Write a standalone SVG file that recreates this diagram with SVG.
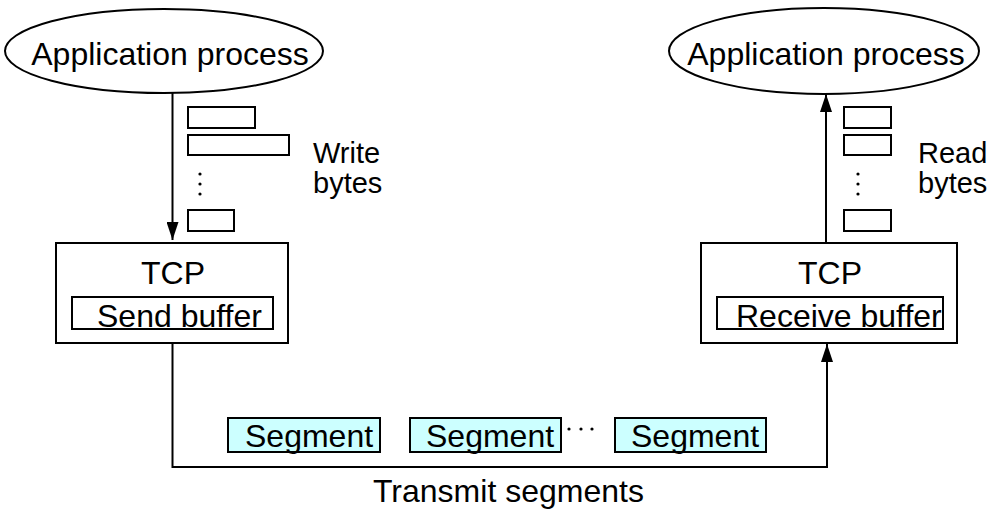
<svg xmlns="http://www.w3.org/2000/svg" width="996" height="510" viewBox="0 0 996 510">
<style>
text{font-family:"Liberation Sans",Arial,sans-serif;font-size:32px;fill:#000}
.s{fill:none;stroke:#000;stroke-width:2}
.w{fill:#fff;stroke:#000;stroke-width:2}
.seg{fill:#ccffff;stroke:#000;stroke-width:2}
.lbl{font-size:29px}
.c{text-anchor:middle}
</style>
<defs>
<marker id="ah" markerWidth="18" markerHeight="12" refX="18" refY="6" orient="auto" markerUnits="userSpaceOnUse" viewBox="0 0 18 12">
<path d="M0,0 L18,6 L0,12 Z" fill="#000"/>
</marker>
</defs>
<rect width="996" height="510" fill="#fff"/>
<g id="connectors">
<line class="s" x1="172.5" y1="93" x2="172.5" y2="240" marker-end="url(#ah)"/>
<polyline class="s" points="172.5,343 172.5,467 827,467 827,344" marker-end="url(#ah)"/>
<line class="s" x1="826" y1="243" x2="826" y2="94" marker-end="url(#ah)"/>
</g>
<g id="app-left">
<ellipse class="w" cx="164" cy="51" rx="159" ry="42"/>
<text class="c" x="170" y="65">Application process</text>
</g>
<g id="app-right">
<ellipse class="w" cx="824" cy="51" rx="155" ry="43"/>
<text class="c" x="826" y="65">Application process</text>
</g>
<g id="write-bytes">
<rect class="w" x="188" y="107" width="67" height="21"/>
<rect class="w" x="188" y="135" width="101" height="20"/>
<circle cx="200" cy="174" r="1.6"/><circle cx="200" cy="184" r="1.6"/><circle cx="200" cy="194" r="1.6"/>
<rect class="w" x="188" y="210" width="46" height="21"/>
<text class="lbl" x="313" y="163">Write</text>
<text class="lbl" x="313" y="193">bytes</text>
</g>
<g id="read-bytes">
<rect class="w" x="844" y="107" width="47" height="21"/>
<rect class="w" x="844" y="135" width="47" height="20"/>
<circle cx="858" cy="174" r="1.6"/><circle cx="858" cy="184" r="1.6"/><circle cx="858" cy="194" r="1.6"/>
<rect class="w" x="844" y="210" width="47" height="21"/>
<text class="lbl" x="918" y="163">Read</text>
<text class="lbl" x="918" y="193">bytes</text>
</g>
<g id="tcp-left">
<rect class="w" x="56" y="243" width="232" height="100"/>
<text class="c" x="173" y="284">TCP</text>
<rect class="w" x="72" y="297" width="201" height="32"/>
<text x="97" y="327">Send buffer</text>
</g>
<g id="tcp-right">
<rect class="w" x="701" y="243" width="256" height="100"/>
<text class="c" x="830" y="284">TCP</text>
<rect class="w" x="717" y="297" width="226" height="32"/>
<text x="736" y="327">Receive buffer</text>
</g>
<g id="segment-1">
<rect class="seg" x="228" y="418" width="152" height="34"/>
<text x="245" y="447">Segment</text>
</g>
<g id="segment-2">
<rect class="seg" x="410" y="418" width="151" height="34"/>
<text x="426" y="447">Segment</text>
</g>
<g id="ellipsis">
<circle cx="569" cy="429" r="1.6"/><circle cx="581" cy="429" r="1.6"/><circle cx="592" cy="429" r="1.6"/>
</g>
<g id="segment-3">
<rect class="seg" x="615" y="418" width="151" height="34"/>
<text x="631" y="447">Segment</text>
</g>
<g id="caption">
<text x="373" y="502">Transmit segments</text>
</g>
</svg>
